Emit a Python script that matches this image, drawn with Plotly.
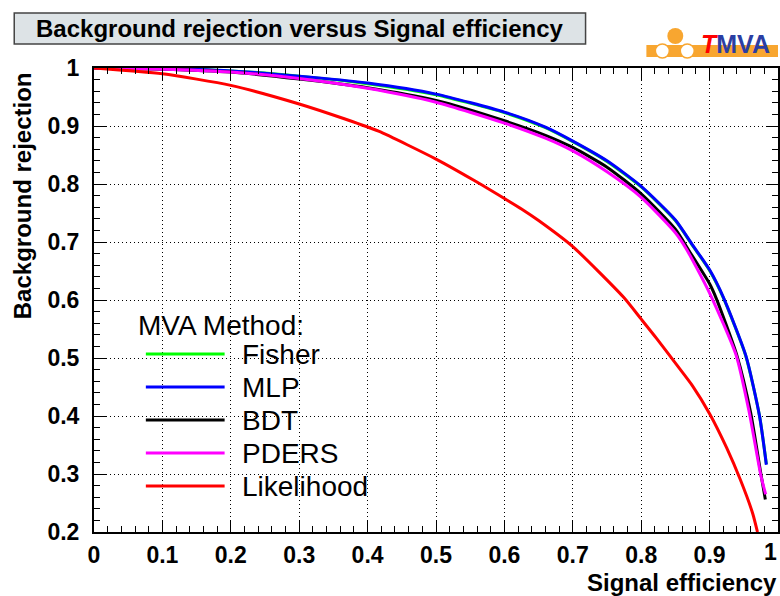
import plotly.graph_objects as go

# ---- data ----
fisher_eff = [0.0, 0.1, 0.2, 0.3, 0.4, 0.5, 0.6, 0.66, 0.7, 0.75, 0.8, 0.85, 0.875, 0.9, 0.92, 0.953, 0.973, 0.983]
fisher_rej = [1.0, 0.999, 0.995, 0.986, 0.973, 0.954, 0.923, 0.897, 0.873, 0.839, 0.795, 0.737, 0.694, 0.651, 0.604, 0.503, 0.400, 0.317]

mlp_eff = [0.0, 0.1, 0.2, 0.3, 0.4, 0.5, 0.6, 0.66, 0.7, 0.75, 0.8, 0.85, 0.875, 0.9, 0.92, 0.953, 0.973, 0.983]
mlp_rej = [1.0, 0.999, 0.995, 0.986, 0.974, 0.955, 0.924, 0.898, 0.874, 0.840, 0.796, 0.738, 0.695, 0.652, 0.605, 0.504, 0.400, 0.316]

bdt_eff = [0.0, 0.1, 0.2, 0.3, 0.4, 0.5, 0.6, 0.66, 0.7, 0.75, 0.8, 0.85, 0.87, 0.9, 0.91, 0.94, 0.96, 0.975, 0.9815]
bdt_rej = [1.0, 0.998, 0.993, 0.981, 0.966, 0.944, 0.909, 0.884, 0.863, 0.829, 0.783, 0.722, 0.685, 0.628, 0.602, 0.504, 0.406, 0.300, 0.256]

pders_eff = [0.0, 0.1, 0.2, 0.3, 0.4, 0.5, 0.6, 0.66, 0.7, 0.75, 0.8, 0.85, 0.866, 0.9, 0.939, 0.958, 0.975, 0.982]
pders_rej = [1.0, 0.998, 0.993, 0.982, 0.965, 0.941, 0.905, 0.879, 0.857, 0.821, 0.777, 0.716, 0.688, 0.612, 0.504, 0.406, 0.297, 0.265]

lik_eff = [0.0, 0.1, 0.2, 0.3, 0.367, 0.416, 0.5, 0.556, 0.6, 0.625, 0.65, 0.7, 0.774, 0.8, 0.823, 0.852, 0.875, 0.9, 0.925, 0.945, 0.963, 0.97]
lik_rej = [1.0, 0.990, 0.970, 0.938, 0.912, 0.891, 0.843, 0.806, 0.775, 0.757, 0.737, 0.692, 0.605, 0.567, 0.533, 0.488, 0.452, 0.404, 0.345, 0.290, 0.232, 0.200]

method_names = ["Fisher", "MLP", "BDT", "PDERS", "Likelihood"]
method_colors = ["#00ff00", "#0000ff", "#000000", "#ff00ff", "#ff0000"]
series = [(fisher_eff, fisher_rej), (mlp_eff, mlp_rej), (bdt_eff, bdt_rej),
          (pders_eff, pders_rej), (lik_eff, lik_rej)]

x_ticks = [0, 0.1, 0.2, 0.3, 0.4, 0.5, 0.6, 0.7, 0.8, 0.9, 1]
x_labels = ["0", "0.1", "0.2", "0.3", "0.4", "0.5", "0.6", "0.7", "0.8", "0.9", ""]
x_last_label = "1"
y_ticks = [0.2, 0.3, 0.4, 0.5, 0.6, 0.7, 0.8, 0.9, 1]
y_labels = ["0.2", "0.3", "0.4", "0.5", "0.6", "0.7", "0.8", "0.9", "1"]

title_text = "Background rejection versus Signal efficiency"
x_title = "Signal efficiency"
y_title = "Background rejection"
legend_header = "MVA Method:"

# ---- layout geometry ----
W, H = 780, 596
L, R, T, B = 94, 0, 68, 64
PW, PH = W - L - R, H - T - B


def px(xp):
    return (xp - L) / PW


def py(yp):
    return (H - B - yp) / PH


FONT = "Liberation Sans, Arial, Helvetica, sans-serif"
TICKFONT = dict(family=FONT, size=23, color="black", weight="bold")

fig = go.Figure()
for name, color, (ex, ry) in zip(method_names, method_colors, series):
    fig.add_trace(go.Scatter(x=ex, y=ry, mode="lines", name=name,
                             line=dict(color=color, width=3, shape="spline", smoothing=0.6),
                             showlegend=False, hoverinfo="skip"))

axis_common = dict(
    showline=True, linecolor="black", linewidth=2, mirror="allticks",
    ticks="inside", ticklen=12, tickwidth=1, tickcolor="black",
    showgrid=True, gridcolor="black", gridwidth=1, griddash="1px,3px",
    zeroline=False,
    tickfont=TICKFONT,
    minor=dict(ticks="inside", ticklen=6, tickcolor="black", tickwidth=1, showgrid=False),
)

fig.update_xaxes(range=[0, 1], tickvals=x_ticks, ticktext=x_labels,
                 ticklabelstandoff=1, minor_dtick=0.02, **axis_common)
fig.update_yaxes(range=[0.2, 1], tickvals=y_ticks, ticktext=y_labels,
                 ticklabelstandoff=8, minor_dtick=0.02, **axis_common)

shapes = []
annotations = []

# last x tick label, at the right edge as in the reference
annotations.append(dict(xref="paper", yref="paper", x=px(781), y=py(552),
                        text=x_last_label, showarrow=False, xanchor="right", yanchor="middle",
                        font=TICKFONT))

# title box
shapes.append(dict(type="rect", xref="paper", yref="paper",
                   x0=px(14), x1=px(587), y0=py(44), y1=py(13),
                   fillcolor="#dde3e6", line=dict(color="#444444", width=1.5), layer="above"))
annotations.append(dict(xref="paper", yref="paper", x=px(300.5), y=py(29),
                        text=title_text, showarrow=False, xanchor="center", yanchor="middle",
                        font=dict(family=FONT, size=24, color="black", weight="bold")))

# TMVA logo
shapes.append(dict(type="rect", xref="paper", yref="paper",
                   x0=px(648), x1=px(780), y0=py(57), y1=py(45),
                   fillcolor="#f8a630", line=dict(width=0), layer="above"))
shapes.append(dict(type="circle", xref="paper", yref="paper",
                   x0=px(669), x1=px(685), y0=py(44), y1=py(28),
                   fillcolor="#f8a630", line=dict(width=0), layer="above"))
for cx in (664, 689):
    shapes.append(dict(type="circle", xref="paper", yref="paper",
                       x0=px(cx - 7), x1=px(cx + 7), y0=py(58), y1=py(44),
                       fillcolor="white", line=dict(color="#f8a630", width=1.5), layer="above"))
annotations.append(dict(xref="paper", yref="paper", x=px(737), y=py(44),
                        text="<i><span style='color:#ff0000'>T</span></i><span style='color:#2b3ea3'>MVA</span>",
                        showarrow=False, xanchor="center", yanchor="middle",
                        font=dict(family=FONT, size=25, weight="bold")))

# axis titles
annotations.append(dict(xref="paper", yref="paper", x=px(781), y=py(582),
                        text=x_title, showarrow=False, xanchor="right", yanchor="middle",
                        font=dict(family=FONT, size=24, color="black", weight="bold")))
annotations.append(dict(xref="paper", yref="paper", x=px(22), y=py(196),
                        text=y_title, showarrow=False, xanchor="center", yanchor="middle",
                        textangle=-90,
                        font=dict(family=FONT, size=24, color="black", weight="bold")))

# manual legend
annotations.append(dict(xref="paper", yref="paper", x=px(136), y=py(325),
                        text=legend_header, showarrow=False, xanchor="left", yanchor="middle",
                        font=dict(family=FONT, size=28, color="black")))
row_y = [354, 387, 420, 453, 486]
for name, color, ry in zip(method_names, method_colors, row_y):
    shapes.append(dict(type="line", xref="paper", yref="paper",
                       x0=px(146), x1=px(225), y0=py(ry), y1=py(ry),
                       line=dict(color=color, width=3), layer="above"))
    annotations.append(dict(xref="paper", yref="paper", x=px(240), y=py(ry),
                            text=name, showarrow=False, xanchor="left", yanchor="middle",
                            font=dict(family=FONT, size=28, color="black")))

fig.update_layout(width=W, height=H, margin=dict(l=L, r=R, t=T, b=B, pad=0),
                  paper_bgcolor="white", plot_bgcolor="white",
                  shapes=shapes, annotations=annotations, showlegend=False,
                  hovermode=False)

fig.write_html("out.html", config={"displayModeBar": False},
               post_script="document.body.style.margin='0px';")
